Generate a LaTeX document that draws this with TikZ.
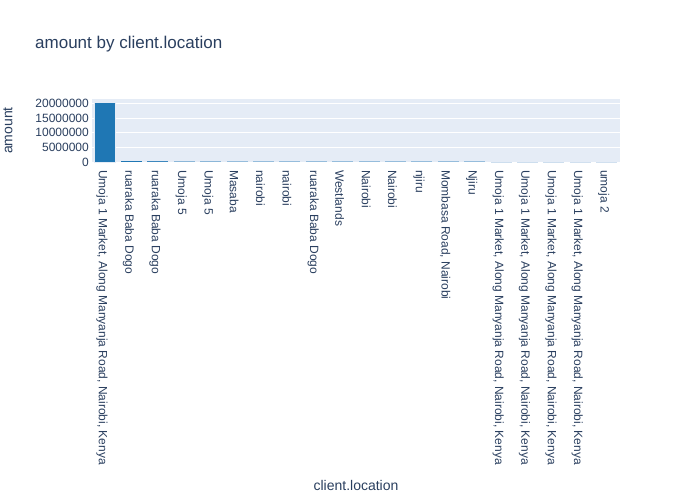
\documentclass[tikz,border=0pt]{standalone}
\usepackage{fontspec}
\setmainfont{Liberation Sans}
\definecolor{txt}{RGB}{42,63,95}
\definecolor{plotbg}{RGB}{229,236,246}
\definecolor{barblue}{RGB}{31,119,180}
\begin{document}
\begin{tikzpicture}[x=1pt,y=-1pt,
  ticklab/.style={text=txt,font=\fontsize{12}{14}\selectfont,inner sep=0pt},
  axtitle/.style={text=txt,font=\fontsize{14}{16}\selectfont,inner sep=0pt},
  barstyle/.style={fill=barblue,draw=plotbg,line width=0.5pt},
  grid/.style={draw=white,line width=1pt}]
\useasboundingbox[fill=white] (0,0) rectangle (700,500);
% plot area
\fill[plotbg] (91.9,99) rectangle (620,162.3);
\foreach \g in {147.55,132.8,118.05,103.3}{
  \draw[grid] (91.9,\g) -- (620,\g);
}
% title
\node[anchor=west,text=txt,font=\fontsize{17}{20}\selectfont,inner sep=0pt] (title) at (35,44) {amount by client.location};
% y axis title
\node[axtitle,rotate=90] (ytitle) at (8,130.5) {amount};
% x axis title
\node[axtitle] (xtitle) at (356,485) {client.location};
% y tick labels
\foreach \v/\yy [count=\k] in {0/162.3,5000000/147.55,10000000/132.8,15000000/118.05,20000000/103.3}{
  \node[ticklab,anchor=east] (yt\k) at (89,\yy) {\v};
}
% main bar
\draw[barstyle] (94.54,162.3) rectangle (115.66,102.4);
% small bars: height in px / shade
\foreach \h/\sh [count=\i from 1] in {1.6/100,1.4/85,1/45,1/45,1/40,1/40,1/40,1/40,1/40,1/40,1/40,1/40,1/40,1/40,0.8/12,0.8/12,0.8/12,0.8/10,0.8/10}{
  \pgfmathsetmacro{\xa}{91.9+26.4*\i+2.64}
  \pgfmathsetmacro{\xb}{\xa+21.12}
  \pgfmathsetmacro{\ytop}{162.3-\h}
  \fill[barblue!\sh!plotbg] (\xa,162.3) rectangle (\xb,\ytop);
}
% x tick labels
\foreach \lab [count=\i from 0] in {{Umoja 1 Market, Along Manyanja Road, Nairobi, Kenya},{ruaraka Baba Dogo},{ruaraka Baba Dogo},{Umoja 5},{Umoja 5},{Masaba},{nairobi},{nairobi},{ruaraka Baba Dogo},{Westlands},{Nairobi},{Nairobi},{njiru},{Mombasa Road, Nairobi},{Njiru},{Umoja 1 Market, Along Manyanja Road, Nairobi, Kenya},{Umoja 1 Market, Along Manyanja Road, Nairobi, Kenya},{Umoja 1 Market, Along Manyanja Road, Nairobi, Kenya},{Umoja 1 Market, Along Manyanja Road, Nairobi, Kenya},{umoja 2}}{
  \pgfmathsetmacro{\xc}{91.9+26.4*\i+13.2-3}
  \node[ticklab,rotate=-90,anchor=west] (xl\i) at (\xc,170) {\lab};
}
\end{tikzpicture}
\end{document}
